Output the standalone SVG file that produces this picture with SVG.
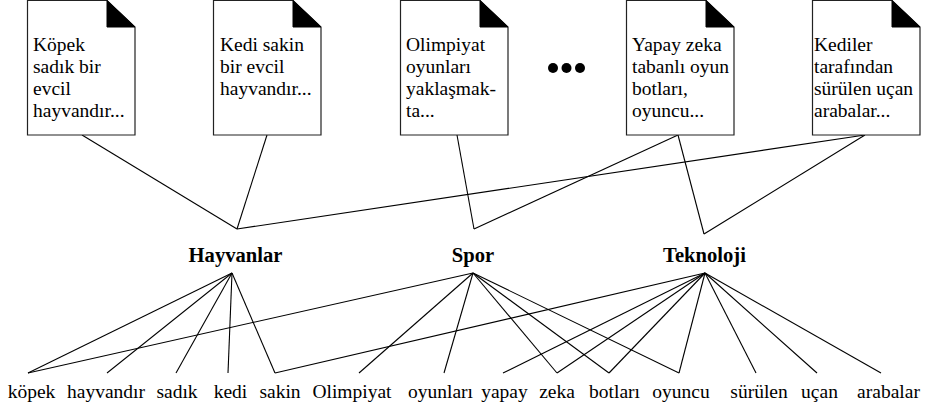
<svg xmlns="http://www.w3.org/2000/svg" width="925" height="414" viewBox="0 0 925 414">
  <style>
    .doc-page { fill: #ffffff; stroke: #222222; stroke-width: 1.2; }
    .doc-fold { fill: #000000; stroke: #000000; stroke-width: 1; }
    .doc-text { font-size: 19.5px; fill: #000000; }
    .topic { font-size: 20.6px; font-weight: bold; fill: #000000; text-anchor: middle; }
    .word { font-size: 19.5px; fill: #000000; text-anchor: middle; }
    .link { stroke: #000000; stroke-width: 1.1; fill: none; }
  </style>
  <defs>
    <!-- page with a folded top-right corner, 108 x 135 -->
    <g id="page">
      <path class="doc-page" d="M0.5,0.5 H80 L108,27 V135 H0.5 Z"/>
      <path class="doc-fold" d="M80,0.5 L108,27 H80 Z"/>
    </g>
  </defs>

  <rect width="925" height="414" fill="#ffffff"/>

  <!-- connectors -->
  <g id="connectors">
    <!-- documents to topics -->
    <line class="link" x1="82" y1="135" x2="237" y2="229"/>
    <line class="link" x1="267" y1="135" x2="237" y2="229"/>
    <line class="link" x1="865" y1="135" x2="237" y2="229"/>
    <line class="link" x1="457" y1="135" x2="474" y2="229"/>
    <line class="link" x1="678" y1="135" x2="474" y2="229"/>
    <line class="link" x1="678" y1="135" x2="704" y2="234"/>
    <line class="link" x1="865" y1="135" x2="704" y2="234"/>
    <!-- Hayvanlar to words -->
    <line class="link" x1="232" y1="273" x2="28" y2="373"/>
    <line class="link" x1="232" y1="273" x2="107" y2="373"/>
    <line class="link" x1="232" y1="273" x2="176" y2="373"/>
    <line class="link" x1="232" y1="273" x2="228" y2="373"/>
    <line class="link" x1="232" y1="273" x2="275" y2="373"/>
    <!-- Spor to words -->
    <line class="link" x1="473" y1="273" x2="28" y2="373"/>
    <line class="link" x1="473" y1="273" x2="359" y2="373"/>
    <line class="link" x1="473" y1="273" x2="444" y2="373"/>
    <line class="link" x1="473" y1="273" x2="557" y2="373"/>
    <line class="link" x1="473" y1="273" x2="609" y2="373"/>
    <line class="link" x1="473" y1="273" x2="679" y2="373"/>
    <!-- Teknoloji to words -->
    <line class="link" x1="705" y1="273" x2="275" y2="373"/>
    <line class="link" x1="705" y1="273" x2="503" y2="373"/>
    <line class="link" x1="705" y1="273" x2="557" y2="373"/>
    <line class="link" x1="705" y1="273" x2="609" y2="373"/>
    <line class="link" x1="705" y1="273" x2="679" y2="373"/>
    <line class="link" x1="705" y1="273" x2="756" y2="373"/>
    <line class="link" x1="705" y1="273" x2="817" y2="373"/>
    <line class="link" x1="705" y1="273" x2="881" y2="373"/>
  </g>

  <g font-family="Liberation Serif, Times New Roman, DejaVu Serif, serif">
  <!-- documents -->
  <g id="doc1">
    <use href="#page" x="27" y="0"/>
    <text class="doc-text" x="33"><tspan x="33" y="51">Köpek</tspan><tspan x="33" y="73">sadık bir</tspan><tspan x="33" y="95">evcil</tspan><tspan x="33" y="117">hayvandır...</tspan></text>
  </g>
  <g id="doc2">
    <use href="#page" x="213" y="0"/>
    <text class="doc-text" x="220"><tspan x="220" y="51">Kedi sakin</tspan><tspan x="220" y="73">bir evcil</tspan><tspan x="220" y="95">hayvandır...</tspan></text>
  </g>
  <g id="doc3">
    <use href="#page" x="400" y="0"/>
    <text class="doc-text" x="406"><tspan x="406" y="51">Olimpiyat</tspan><tspan x="406" y="73">oyunları</tspan><tspan x="406" y="95">yaklaşmak-</tspan><tspan x="406" y="117">ta...</tspan></text>
  </g>
  <g id="more">
    <circle cx="553" cy="68" r="5" fill="#000000"/>
    <circle cx="566.5" cy="68" r="5" fill="#000000"/>
    <circle cx="580" cy="68" r="5" fill="#000000"/>
  </g>
  <g id="doc4">
    <use href="#page" x="626" y="0"/>
    <text class="doc-text" x="632"><tspan x="632" y="51">Yapay zeka</tspan><tspan x="632" y="73">tabanlı oyun</tspan><tspan x="632" y="95">botları,</tspan><tspan x="632" y="117">oyuncu...</tspan></text>
  </g>
  <g id="doc5">
    <use href="#page" x="812" y="0"/>
    <text class="doc-text" x="814"><tspan x="814" y="51">Kediler</tspan><tspan x="814" y="73">tarafından</tspan><tspan x="814" y="95">sürülen uçan</tspan><tspan x="814" y="117">arabalar...</tspan></text>
  </g>

  <!-- topics -->
  <g id="topic-hayvanlar"><text class="topic" x="235.5" y="262">Hayvanlar</text></g>
  <g id="topic-spor"><text class="topic" x="473" y="262">Spor</text></g>
  <g id="topic-teknoloji"><text class="topic" x="704.5" y="262">Teknoloji</text></g>

  <!-- words -->
  <g id="word-kopek"><text class="word" x="31.5" y="398">köpek</text></g>
  <g id="word-hayvandir"><text class="word" x="106" y="398">hayvandır</text></g>
  <g id="word-sadik"><text class="word" x="177" y="398">sadık</text></g>
  <g id="word-kedi"><text class="word" x="230.5" y="398">kedi</text></g>
  <g id="word-sakin"><text class="word" x="280" y="398">sakin</text></g>
  <g id="word-olimpiyat"><text class="word" x="352" y="398">Olimpiyat</text></g>
  <g id="word-oyunlari"><text class="word" x="440.5" y="398">oyunları</text></g>
  <g id="word-yapay"><text class="word" x="504.5" y="398">yapay</text></g>
  <g id="word-zeka"><text class="word" x="557" y="398">zeka</text></g>
  <g id="word-botlari"><text class="word" x="614.5" y="398">botları</text></g>
  <g id="word-oyuncu"><text class="word" x="681" y="398">oyuncu</text></g>
  <g id="word-surulen"><text class="word" x="759" y="398">sürülen</text></g>
  <g id="word-ucan"><text class="word" x="819.5" y="398">uçan</text></g>
  <g id="word-arabalar"><text class="word" x="888.5" y="398">arabalar</text></g>
  </g>
</svg>
